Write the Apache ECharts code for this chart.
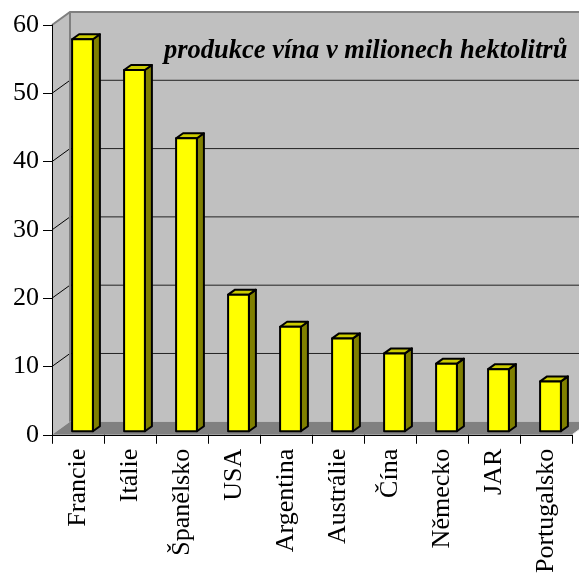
<!DOCTYPE html>
<html>
<head>
<meta charset="utf-8">
<script src="https://cdn.jsdelivr.net/npm/echarts@6/dist/echarts.min.js"></script>
<style>
  html, body { margin: 0; padding: 0; background: #fff; }
  #chart { width: 579px; height: 576px; }
</style>
</head>
<body>
<div id="chart"></div>
<script>
// zeme (kategorie na ose x)
var countries = ['Francie', 'Itálie', 'Španělsko', 'USA', 'Argentina', 'Austrálie', 'Čína', 'Německo', 'JAR', 'Portugalsko'];
// produkce vina v milionech hektolitru
var production = [57.4, 52.9, 42.9, 20.0, 15.3, 13.6, 11.4, 9.9, 9.1, 7.3];
// hodnoty mrizky na zadni stene
var gridValues = [10, 20, 30, 40, 50];

var FONT = "'Liberation Serif', 'Times New Roman', serif";
// posun do hloubky (3D efekt)
var DEPTH = [18, -13];
var BAR_FRONT = [4.5, -3.5];
var BAR_DEPTH = [7, -5];

function renderBackdrop(params, api) {
    var cs = params.coordSys;
    var L = cs.x, R = cs.x + cs.width, T = cs.y, B = cs.y + cs.height;
    var dx = DEPTH[0], dy = DEPTH[1];
    var children = [
        // zadni stena
        { type: 'polygon', shape: { points: [[L + dx, T + dy], [R + dx, T + dy], [R + dx, B + dy], [L + dx, B + dy]] },
          style: { fill: '#c0c0c0' } },
        // bocni stena
        { type: 'polygon', shape: { points: [[L, T], [L + dx, T + dy], [L + dx, B + dy], [L, B]] },
          style: { fill: '#c0c0c0' } },
        // podlaha
        { type: 'polygon', shape: { points: [[L, B], [L + dx, B + dy], [R + dx, B + dy], [R, B]] },
          style: { fill: '#808080' } }
    ];
    gridValues.forEach(function (v) {
        var y = api.coord([0, v])[1];
        children.push({ type: 'line', shape: { x1: L + dx, y1: y + dy, x2: R + dx, y2: y + dy },
            style: { stroke: '#222', lineWidth: 1 } });
        children.push({ type: 'line', shape: { x1: L, y1: y, x2: L + dx, y2: y + dy },
            style: { stroke: '#000', lineWidth: 1 } });
    });
    // obrys sten
    children.push({ type: 'polyline', shape: { points: [[L, T], [L + dx, T + dy], [R + dx, T + dy]] },
        style: { stroke: '#808080', lineWidth: 2, fill: null } });
    children.push({ type: 'line', shape: { x1: L + dx, y1: T + dy, x2: L + dx, y2: B + dy },
        style: { stroke: '#808080', lineWidth: 2 } });
    children.push({ type: 'line', shape: { x1: R, y1: B, x2: R + dx, y2: B + dy },
        style: { stroke: '#e8e8e8', lineWidth: 1 } });
    return { type: 'group', children: children };
}

function renderBar(params, api) {
    var i = api.value(0);
    var base = api.coord([i, 0]);
    var top = api.coord([i, api.value(1)]);
    var w = api.size([1, 0])[0] * 0.4;
    var xl = base[0] + BAR_FRONT[0] - w / 2;
    var xr = xl + w;
    var yt = top[1] + BAR_FRONT[1];
    var yb = base[1] + BAR_FRONT[1];
    var bx = BAR_DEPTH[0], by = BAR_DEPTH[1];
    var edge = { stroke: '#000', lineWidth: 2, lineJoin: 'round' };
    return {
        type: 'group',
        children: [
            { type: 'polygon', shape: { points: [[xr, yt], [xr + bx, yt + by], [xr + bx, yb + by], [xr, yb]] },
              style: Object.assign({ fill: '#808000' }, edge) },
            { type: 'polygon', shape: { points: [[xl, yt], [xl + bx, yt + by], [xr + bx, yt + by], [xr, yt]] },
              style: Object.assign({ fill: '#cccc00' }, edge) },
            { type: 'rect', shape: { x: xl, y: yt, width: w, height: yb - yt },
              style: Object.assign({ fill: '#ffff00' }, edge) }
        ]
    };
}

var chart = echarts.init(document.getElementById('chart'));
chart.setOption({
    backgroundColor: '#fff',
    animation: false,
    title: {
        text: 'produkce vína v milionech hektolitrů',
        left: 159,
        top: 33,
        textStyle: { fontFamily: FONT, fontSize: 26.5, fontWeight: 'bold', fontStyle: 'italic', color: '#000' }
    },
    grid: { left: 52, top: 25, right: 7, bottom: 140 },
    xAxis: {
        type: 'category',
        data: countries,
        z: 10,
        axisLine: { lineStyle: { color: '#000', width: 1 } },
        axisTick: { show: true, length: 9, lineStyle: { color: '#000' } },
        axisLabel: { interval: 0, rotate: 90, margin: 14, color: '#000', fontFamily: FONT, fontSize: 26 },
        splitLine: { show: false }
    },
    yAxis: {
        type: 'value',
        min: 0,
        max: 60,
        interval: 10,
        z: 10,
        axisLine: { show: true, lineStyle: { color: '#000', width: 1 } },
        axisTick: { show: true, length: 9, lineStyle: { color: '#000' } },
        axisLabel: { margin: 13, color: '#000', fontFamily: FONT, fontSize: 26 },
        splitLine: { show: false }
    },
    series: [
        {
            type: 'custom',
            z: 1,
            clip: false,
            silent: true,
            renderItem: renderBackdrop,
            data: [[0, 0]]
        },
        {
            type: 'custom',
            z: 3,
            clip: false,
            renderItem: renderBar,
            encode: { x: 0, y: 1 },
            data: production.map(function (v, i) { return [i, v]; })
        }
    ]
});
</script>
</body>
</html>
